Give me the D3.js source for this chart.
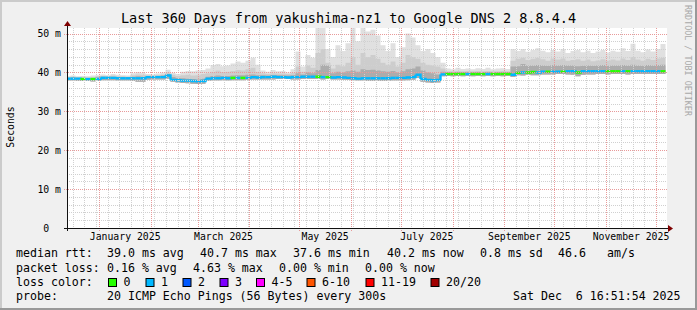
<!DOCTYPE html>
<html>
<head>
<meta charset="utf-8">
<script src="https://cdn.jsdelivr.net/npm/d3@7"></script>
<style>
html, body { margin: 0; padding: 0; background: #f0f0f0; }
svg { display: block; }
text { font-family: "DejaVu Sans Mono", monospace; fill: #000; white-space: pre; }
</style>
</head>
<body>
<svg width="697" height="310"></svg>
<script>
// 120 steps of 3 days each
const median = [
  38.4, 38.4, 38.4, 38.3, 38.3, 38.3, 38.3, 38.6, 38.6, 38.6,
  38.5, 38.5, 38.5, 38.5, 38.5, 38.5, 38.8, 38.8, 38.8, 38.8,
  39.2, 38.1, 38.0, 37.9, 37.9, 37.8, 37.7, 37.8, 38.4, 38.5,
  38.5, 38.6, 38.5, 38.6, 38.6, 38.6, 38.6, 38.8, 38.7, 38.8,
  38.8, 38.9, 38.8, 38.8, 38.7, 38.8, 38.8, 38.9, 38.9, 38.9,
  38.9, 38.8, 38.8, 38.7, 38.8, 38.7, 38.6, 38.5, 38.4, 38.5,
  38.5, 38.5, 38.5, 38.5, 38.5, 38.6, 38.6, 38.6, 38.7, 38.8,
  39.4, 38.3, 38.1, 38.0, 38.1, 39.5, 39.6, 39.6, 39.6, 39.6,
  39.6, 39.6, 39.6, 39.6, 39.6, 39.6, 39.6, 39.6, 39.6, 39.4,
  39.9, 40.0, 40.0, 40.1, 40.0, 40.2, 40.2, 40.2, 40.2, 40.2,
  40.3, 40.3, 40.0, 40.3, 40.3, 40.3, 40.3, 40.3, 40.3, 40.3,
  40.3, 40.3, 40.3, 40.3, 40.3, 40.3, 40.3, 40.3, 40.3, 40.3
];
const lossIdx = [
  1, 1, 1, 0, 1, 0, 1, 1, 1, 1,
  1, 1, 1, 1, 1, 1, 1, 1, 1, 1,
  1, 1, 1, 1, 1, 1, 1, 1, 1, 1,
  1, 1, 1, 0, 1, 0, 1, 1, 1, 1,
  1, 1, 1, 1, 1, 1, 1, 1, 1, 1,
  0, 1, 0, 1, 1, 1, 1, 1, 1, 1,
  1, 1, 1, 1, 1, 1, 1, 1, 1, 1,
  1, 1, 1, 1, 1, 1, 0, 0, 0, 0,
  1, 0, 0, 0, 1, 0, 0, 0, 0, 1,
  0, 1, 0, 0, 1, 1, 0, 1, 1, 0,
  1, 1, 0, 1, 1, 1, 1, 1, 0, 0,
  0, 1, 0, 1, 1, 1, 1, 1, 1, 0
];
const smokeHi = [
  39.0, 39.2, 39.0, 39.1, 39.0, 39.2, 39.3, 39.5, 39.3, 39.6,
  39.4, 39.3, 39.2, 39.8, 40.1, 39.9, 39.6, 39.5, 39.7, 40.0,
  40.7, 39.9, 39.6, 40.2, 40.4, 40.3, 40.5, 40.6, 41.0, 41.9,
  42.2, 41.6, 41.8, 42.3, 42.8, 42.5, 43.0, 43.8, 42.0, 40.5,
  40.2, 40.6, 40.3, 40.4, 40.0, 40.8, 45.4, 41.5, 44.5, 43.8,
  51.4, 52.0, 46.0, 44.0, 47.0, 45.5, 47.5, 51.4, 48.0, 51.4,
  50.5, 51.0, 49.5, 47.0, 45.5, 47.5, 44.0, 46.5, 50.0, 49.0,
  47.0, 45.5, 46.0, 45.0, 44.0, 42.5, 41.0, 40.8, 41.2, 40.9,
  41.0, 40.8, 41.1, 40.9, 41.2, 40.8, 41.0, 41.1, 40.9, 46.0,
  45.5, 46.0, 45.3, 45.8, 46.2, 45.6, 45.2, 45.8, 45.4, 46.0,
  45.0, 45.5, 45.8, 45.2, 45.6, 45.0, 45.4, 45.8, 45.1, 45.6,
  45.3, 46.2, 45.5, 47.4, 45.6, 45.2, 45.9, 45.4, 46.0, 47.3
];
const smokeMid = [
  38.8, 38.9, 38.8, 38.8, 38.7, 38.8, 39.0, 39.1, 39.0, 39.2,
  39.0, 39.0, 38.9, 39.3, 39.5, 39.4, 39.2, 39.2, 39.3, 39.5,
  40.0, 39.4, 39.1, 39.3, 39.4, 39.2, 39.3, 39.6, 39.8, 40.2,
  40.5, 40.1, 40.2, 40.4, 40.6, 40.5, 40.8, 41.2, 40.2, 39.8,
  39.6, 39.8, 39.7, 39.7, 39.6, 39.9, 41.5, 40.2, 41.8, 41.2,
  45.0, 46.0, 42.5, 41.0, 42.0, 41.6, 42.5, 44.0, 42.0, 45.0,
  44.0, 44.5, 43.5, 42.5, 42.0, 42.8, 41.5, 42.5, 44.5, 44.0,
  43.5, 42.5, 42.0, 41.8, 41.5, 41.0, 40.3, 40.3, 40.4, 40.3,
  40.4, 40.3, 40.4, 40.3, 40.4, 40.3, 40.3, 40.4, 40.3, 43.0,
  43.5, 43.8, 43.2, 43.5, 43.8, 43.4, 43.0, 43.6, 43.3, 43.6,
  43.0, 43.2, 43.4, 43.0, 43.3, 42.9, 43.1, 43.4, 43.0, 43.3,
  43.1, 43.6, 43.2, 44.0, 43.3, 43.0, 43.5, 43.2, 43.6, 43.8
];
const smokeUp = [
  38.6, 38.7, 38.6, 38.6, 38.5, 38.6, 38.7, 38.9, 38.9, 38.9,
  38.8, 38.8, 38.8, 38.9, 39.0, 38.9, 39.1, 39.1, 39.1, 39.2,
  39.6, 38.8, 38.6, 38.5, 38.4, 38.3, 38.2, 38.4, 38.9, 39.1,
  39.2, 39.1, 39.1, 39.2, 39.3, 39.3, 39.4, 39.5, 39.3, 39.3,
  39.2, 39.3, 39.3, 39.3, 39.2, 39.3, 39.8, 39.5, 40.0, 39.8,
  40.6, 42.0, 41.8, 39.8, 40.2, 40.0, 40.3, 40.5, 40.2, 40.8,
  40.6, 40.7, 40.5, 40.3, 40.2, 40.4, 40.0, 40.3, 40.8, 41.0,
  41.5, 40.5, 40.0, 39.8, 39.5, 40.2, 40.1, 40.1, 40.1, 40.1,
  40.1, 40.1, 40.1, 40.1, 40.1, 40.1, 40.1, 40.1, 40.1, 41.5,
  41.6, 42.2, 41.8, 41.8, 41.9, 41.8, 41.7, 41.9, 41.8, 41.9,
  41.8, 41.8, 41.6, 41.7, 41.8, 41.7, 41.8, 41.9, 41.7, 41.8,
  41.8, 41.9, 41.8, 42.0, 41.8, 41.7, 41.9, 41.8, 41.9, 42.0
];
const smokeLo = [
  37.9, 37.9, 37.8, 37.8, 37.8, 37.7, 37.8, 38.0, 38.0, 38.0,
  37.9, 37.9, 37.9, 37.8, 37.6, 37.6, 38.1, 38.2, 38.2, 38.2,
  38.4, 37.6, 37.4, 37.3, 37.2, 37.1, 37.0, 37.1, 37.8, 37.9,
  37.9, 38.0, 37.9, 38.0, 38.0, 38.0, 38.1, 38.2, 38.2, 38.2,
  38.2, 38.2, 38.3, 38.3, 38.3, 38.2, 38.2, 38.3, 38.3, 38.3,
  38.3, 38.2, 38.3, 38.2, 38.2, 38.1, 38.1, 38.0, 37.9, 37.9,
  37.8, 37.8, 37.8, 37.8, 37.8, 37.9, 37.9, 37.9, 38.0, 38.1,
  38.6, 37.6, 37.4, 37.3, 37.4, 39.0, 39.1, 39.0, 39.1, 39.0,
  39.1, 39.0, 39.1, 39.0, 39.1, 39.0, 39.1, 39.0, 39.1, 38.8,
  39.3, 39.2, 39.4, 39.3, 39.3, 39.5, 39.5, 39.5, 39.6, 39.6,
  39.5, 39.4, 39.0, 39.4, 39.5, 39.5, 39.6, 39.6, 39.5, 39.6,
  39.6, 39.6, 39.5, 39.6, 39.6, 39.6, 39.6, 39.6, 39.6, 39.6
];

const yTicks = [0, 10, 20, 30, 40, 50];
const lossLabels = ["0", "1", "2", "3", "4-5", "6-10", "11-19", "20/20"];
const lossColors = ["#26ff00", "#00b8ff", "#0059ff", "#7e00ff", "#ff00ff", "#ff5500", "#ff0000", "#a10000"];

const titleText = "Last 360 Days from yakushima-nz1 to Google DNS 2 8.8.4.4";
const rttLegend = ["median rtt:", "39.0 ms avg", "40.7 ms max", "37.6 ms min", "40.2 ms now", "0.8 ms sd", "46.6", "am/s"];
const lossLegend = ["packet loss:", "0.16 % avg", "4.63 % max", "0.00 % min", "0.00 % now"];
const probeText = "20 ICMP Echo Pings (56 Bytes) every 300s";
const stampText = "Sat Dec  6 16:51:54 2025";

const endTime = new Date(2025, 11, 6, 16, 51, 54);
const startTime = d3.timeDay.offset(endTime, -360);
const stepMs = 3 * 864e5;

const pL = 67, pR = 667, pT = 28, pB = 228;

const svg = d3.select("svg");

// frame
svg.append("rect").attr("width", 697).attr("height", 310).attr("fill", "#f0f0f0");
svg.append("path").attr("d", "M1,310V1H697").attr("fill", "none").attr("stroke", "#cbcbcb").attr("stroke-width", 2);
svg.append("path").attr("d", "M0,309H696V0").attr("fill", "none").attr("stroke", "#999").attr("stroke-width", 2);

// time axis sits 1.5px left of the canvas edge, like the source graph
const x = d3.scaleTime().domain([startTime, endTime]).range([pL - 1.5, pR - 1.5]);
const y = d3.scaleLinear().domain([0, 51.43]).range([pB, pT]);

svg.append("rect").attr("x", pL).attr("y", pT)
    .attr("width", pR - pL).attr("height", pB - pT).attr("fill", "#fff");

svg.append("clipPath").attr("id", "plot")
    .append("rect").attr("x", pL).attr("y", pT)
    .attr("width", pR - pL).attr("height", pB - pT);

// rows for step drawing
const rows = median.map((m, i) => ({
    t: new Date(+startTime + i * stepMs),
    med: m, hi: smokeHi[i], mid: smokeMid[i], up: smokeUp[i], lo: smokeLo[i], loss: lossIdx[i]
}));
rows.push(Object.assign({}, rows[rows.length - 1], { t: endTime }));

const plot = svg.append("g").attr("clip-path", "url(#plot)");

// smoke
[["hi", "#e0e0e0"], ["mid", "#cdcdcd"], ["up", "#acacac"]].forEach(([key, col]) => {
    plot.append("path")
        .datum(rows)
        .attr("fill", col)
        .attr("d", d3.area()
            .curve(d3.curveStepAfter)
            .x(d => x(d.t))
            .y0(d => y(d.lo))
            .y1(d => y(d[key])));
});

// grid
const px = v => Math.round(v) + 0.5;
const grid = svg.append("g").attr("fill", "none").attr("stroke-dasharray", "1,1").attr("shape-rendering", "crispEdges");

const weeks = d3.timeMonday.range(startTime, endTime);
const months = d3.timeMonth.range(d3.timeMonth.ceil(startTime), endTime);
const minorY = d3.range(0, 51, 2).filter(v => v % 10 !== 0);

grid.selectAll(".wk").data(weeks).join("line")
    .attr("x1", d => px(x(d))).attr("x2", d => px(x(d)))
    .attr("y1", pT).attr("y2", pB)
    .attr("stroke", "#d0d0d0");
grid.selectAll(".hm").data(minorY).join("line")
    .attr("x1", pL).attr("x2", pR)
    .attr("y1", d => px(y(d))).attr("y2", d => px(y(d)))
    .attr("stroke", "#d0d0d0");
grid.selectAll(".mo").data(months).join("line")
    .attr("x1", d => px(x(d))).attr("x2", d => px(x(d)))
    .attr("y1", pT).attr("y2", pB + 3)
    .attr("stroke", "#e89a9a");
grid.selectAll(".hM").data(yTicks.filter(v => v > 0)).join("line")
    .attr("x1", pL - 3).attr("x2", pR)
    .attr("y1", d => px(y(d))).attr("y2", d => px(y(d)))
    .attr("stroke", "#e89a9a");

// median line coloured by loss
rows.slice(0, median.length).forEach((d, i) => {
    const nx = rows[i + 1];
    let p = `M${x(d.t)},${y(d.med)}H${x(nx.t)}`;
    if (i + 1 < median.length) p += `V${y(nx.med)}`;
    plot.append("path")
        .attr("d", p)
        .attr("fill", "none")
        .attr("stroke", lossColors[d.loss])
        .attr("stroke-width", 2.4);
});

// axes
svg.append("path").attr("d", `M${pL - 3},${pB + 0.5}H${pR + 2}`)
    .attr("stroke", "#111").attr("shape-rendering", "crispEdges");
svg.append("path").attr("d", `M${pL + 0.5},${pB + 3}V${pT - 2}`)
    .attr("stroke", "#111").attr("shape-rendering", "crispEdges");
svg.append("path").attr("d", `M${pR + 1},${pB - 3}L${pR + 6},${pB + 0.5}L${pR + 1},${pB + 4}Z`)
    .attr("fill", "#7f0000");
svg.append("path").attr("d", `M${pL - 3},${pT - 2}L${pL + 0.5},${pT - 7}L${pL + 4},${pT - 2}Z`)
    .attr("fill", "#7f0000");

// y labels
svg.selectAll(".yl").data(yTicks).join("text")
    .attr("x", 61).attr("y", d => y(d) + 3.5)
    .attr("text-anchor", "end")
    .attr("font-size", "9.8px")
    .attr("xml:space", "preserve")
    .text(d => d === 0 ? "0  " : `${d} m`);

// month labels (every other month, centred in the month)
svg.selectAll(".ml").data(months.filter(m => m.getMonth() % 2 === 0)).join("text")
    .attr("x", d => (x(d) + x(d3.timeMonth.offset(d, 1))) / 2)
    .attr("y", 240)
    .attr("text-anchor", "middle")
    .attr("font-size", "9.8px")
    .text(d => d3.timeFormat("%B %Y")(d));

// title and side texts
svg.append("text").attr("x", 348.5).attr("y", 23).attr("text-anchor", "middle")
    .attr("font-size", "13.5px").text(titleText);
svg.append("text").attr("transform", "translate(13.5,127) rotate(-90)")
    .attr("text-anchor", "middle").attr("font-size", "9.8px").text("Seconds");
svg.append("text").attr("transform", "translate(685,5) rotate(90)")
    .attr("font-size", "8.4px").style("fill", "#a8a8a8").text("RRDTOOL / TOBI OETIKER");

// legend
const lg = svg.append("g").attr("font-size", "11.6px");
const rttX = [16, 107, 200, 293, 387, 480, 558, 607];
rttLegend.forEach((s, i) => lg.append("text").attr("x", rttX[i]).attr("y", 257).text(s));
const lossX = [16, 107, 193, 279, 365];
lossLegend.forEach((s, i) => lg.append("text").attr("x", lossX[i]).attr("y", 271.5).text(s));
lg.append("text").attr("x", 16).attr("y", 285.5).text("loss color:");
const boxX = [108, 145.5, 182.5, 219.5, 256, 306.5, 365.5, 430.5];
lossLabels.forEach((s, i) => {
    lg.append("rect").attr("x", boxX[i] + 0.5).attr("y", 278.5).attr("width", 8).attr("height", 8)
        .attr("fill", lossColors[i]).attr("stroke", "#000");
    lg.append("text").attr("x", boxX[i] + 15.5).attr("y", 285.5).text(s);
});
lg.append("text").attr("x", 16).attr("y", 299.5).text("probe:");
lg.append("text").attr("x", 107).attr("y", 299.5).text(probeText);
lg.append("text").attr("x", 513).attr("y", 299.5).attr("xml:space", "preserve").text(stampText);
</script>
</body>
</html>
